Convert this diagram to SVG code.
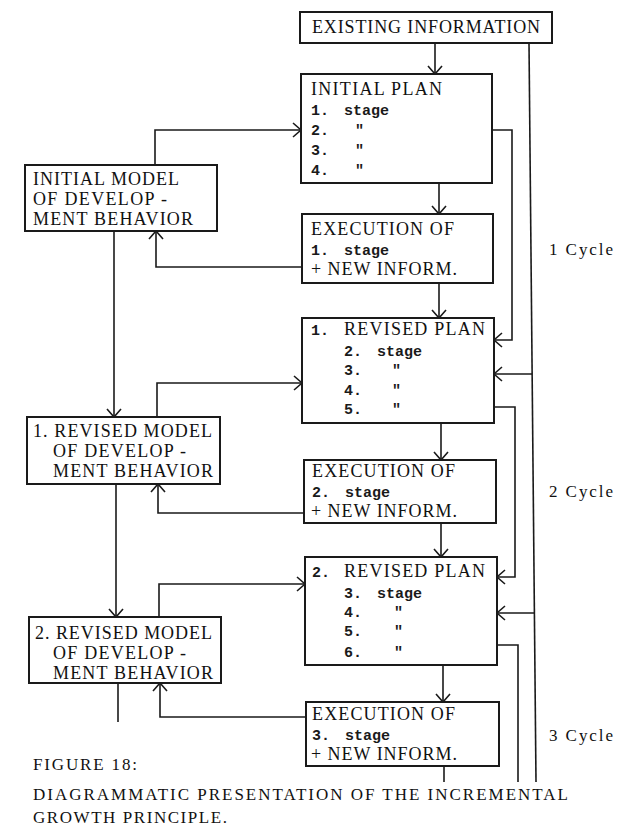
<svg xmlns="http://www.w3.org/2000/svg" width="630" height="828" viewBox="0 0 630 828">
<style>
.bx{fill:#fff;stroke:#1a1a1a;stroke-width:2}
.ln{fill:none;stroke:#1a1a1a;stroke-width:1.6}
.t{font-family:"Liberation Serif","Times New Roman",serif;font-size:18px;fill:#111}
.m{font-family:"Liberation Mono","Courier New",monospace;font-size:15px;font-weight:bold;fill:#1a1a1a}
.c{font-family:"Liberation Serif","Times New Roman",serif;font-size:17px;fill:#111}
</style>
<defs>
<marker id="a" viewBox="-10 -9 12 18" markerWidth="12" markerHeight="18" refX="0" refY="0" orient="auto" markerUnits="userSpaceOnUse">
<path d="M-8,-7 L0,0 L-8,7" fill="none" stroke="#1a1a1a" stroke-width="1.6"/>
</marker>
</defs>
<rect width="630" height="828" fill="#fff"/>
<g id="connectors">
<path class="ln" d="M435,43 V74" marker-end="url(#a)"/>
<path class="ln" d="M439,183 V214" marker-end="url(#a)"/>
<path class="ln" d="M439,283 V318" marker-end="url(#a)"/>
<path class="ln" d="M441,423 V460" marker-end="url(#a)"/>
<path class="ln" d="M441,523 V557" marker-end="url(#a)"/>
<path class="ln" d="M443,665 V702" marker-end="url(#a)"/>
<path class="ln" d="M444,766 V782"/>
<path class="ln" d="M529,43 L536,782"/>
<path class="ln" d="M532,374 H494" marker-end="url(#a)"/>
<path class="ln" d="M534.4,613 H497" marker-end="url(#a)"/>
<path class="ln" d="M492,130 H512 V340 H494" marker-end="url(#a)"/>
<path class="ln" d="M494,407 H515 V577 H497" marker-end="url(#a)"/>
<path class="ln" d="M497,645 H518 V782"/>
<path class="ln" d="M155,165 V130 H301" marker-end="url(#a)"/>
<path class="ln" d="M302,267 H156 V231" marker-end="url(#a)"/>
<path class="ln" d="M114,231 V417" marker-end="url(#a)"/>
<path class="ln" d="M157,417 V383 H302" marker-end="url(#a)"/>
<path class="ln" d="M304,513 H158 V484" marker-end="url(#a)"/>
<path class="ln" d="M116,484 V617" marker-end="url(#a)"/>
<path class="ln" d="M159,617 V584 H305" marker-end="url(#a)"/>
<path class="ln" d="M306,717 H160 V683" marker-end="url(#a)"/>
<path class="ln" d="M118,683 V722"/>
</g>
<g id="existing">
<rect class="bx" x="300" y="12" width="252" height="31"/>
<text class="t" x="312" y="33" textLength="228" lengthAdjust="spacing">EXISTING INFORMATION</text>
</g>
<g id="plan0">
<rect class="bx" x="301" y="74" width="191" height="109"/>
<text class="t" x="311" y="95" textLength="131" lengthAdjust="spacing">INITIAL PLAN</text>
<text class="m" x="311" y="115">1.</text><text class="m" x="344" y="115">stage</text>
<text class="m" x="311" y="135">2.</text><text class="m" x="355" y="135">"</text>
<text class="m" x="311" y="155">3.</text><text class="m" x="355" y="155">"</text>
<text class="m" x="311" y="175">4.</text><text class="m" x="355" y="175">"</text>
</g>
<g id="exec1">
<rect class="bx" x="302" y="214" width="191" height="69"/>
<text class="t" x="311" y="235" textLength="143" lengthAdjust="spacing">EXECUTION OF</text>
<text class="m" x="311" y="255">1.</text><text class="m" x="344" y="255">stage</text>
<text class="t" x="311" y="275" textLength="146" lengthAdjust="spacing">+ NEW INFORM.</text>
</g>
<g id="plan1">
<rect class="bx" x="302" y="318" width="192" height="105"/>
<text class="m" x="311" y="335">1.</text>
<text class="t" x="344" y="335" textLength="141" lengthAdjust="spacing">REVISED PLAN</text>
<text class="m" x="344" y="356">2.</text><text class="m" x="377" y="356">stage</text>
<text class="m" x="344" y="375">3.</text><text class="m" x="392" y="375">"</text>
<text class="m" x="344" y="395">4.</text><text class="m" x="392" y="395">"</text>
<text class="m" x="344" y="414">5.</text><text class="m" x="392" y="414">"</text>
</g>
<g id="exec2">
<rect class="bx" x="304" y="460" width="192" height="63"/>
<text class="t" x="312" y="477" textLength="143" lengthAdjust="spacing">EXECUTION OF</text>
<text class="m" x="312" y="497">2.</text><text class="m" x="345" y="497">stage</text>
<text class="t" x="311" y="517" textLength="146" lengthAdjust="spacing">+ NEW INFORM.</text>
</g>
<g id="plan2">
<rect class="bx" x="305" y="557" width="192" height="108"/>
<text class="m" x="312" y="577">2.</text>
<text class="t" x="344" y="577" textLength="141" lengthAdjust="spacing">REVISED PLAN</text>
<text class="m" x="344" y="598">3.</text><text class="m" x="377" y="598">stage</text>
<text class="m" x="344" y="617">4.</text><text class="m" x="394" y="617">"</text>
<text class="m" x="344" y="636">5.</text><text class="m" x="394" y="636">"</text>
<text class="m" x="344" y="657">6.</text><text class="m" x="394" y="657">"</text>
</g>
<g id="exec3">
<rect class="bx" x="306" y="702" width="193" height="64"/>
<text class="t" x="312" y="720" textLength="143" lengthAdjust="spacing">EXECUTION OF</text>
<text class="m" x="312" y="740">3.</text><text class="m" x="345" y="740">stage</text>
<text class="t" x="311" y="760" textLength="146" lengthAdjust="spacing">+ NEW INFORM.</text>
</g>
<g id="model0">
<rect class="bx" x="25" y="165" width="192" height="66"/>
<text class="t" x="33" y="185" textLength="146" lengthAdjust="spacing">INITIAL MODEL</text>
<text class="t" x="33" y="205" textLength="134" lengthAdjust="spacing">OF DEVELOP -</text>
<text class="t" x="33" y="225" textLength="160" lengthAdjust="spacing">MENT BEHAVIOR</text>
</g>
<g id="model1">
<rect class="bx" x="27" y="417" width="193" height="67"/>
<text class="t" x="33" y="437" textLength="179" lengthAdjust="spacing">1. REVISED MODEL</text>
<text class="t" x="53" y="457" textLength="133" lengthAdjust="spacing">OF DEVELOP -</text>
<text class="t" x="53" y="477" textLength="160" lengthAdjust="spacing">MENT BEHAVIOR</text>
</g>
<g id="model2">
<rect class="bx" x="29" y="617" width="192" height="66"/>
<text class="t" x="35" y="639" textLength="177" lengthAdjust="spacing">2. REVISED MODEL</text>
<text class="t" x="53" y="659" textLength="133" lengthAdjust="spacing">OF DEVELOP -</text>
<text class="t" x="53" y="679" textLength="160" lengthAdjust="spacing">MENT BEHAVIOR</text>
</g>
<g id="cycles">
<text class="c" x="549" y="255" textLength="64" lengthAdjust="spacing">1 Cycle</text>
<text class="c" x="549" y="497" textLength="64" lengthAdjust="spacing">2 Cycle</text>
<text class="c" x="549" y="741" textLength="64" lengthAdjust="spacing">3 Cycle</text>
</g>
<g id="caption">
<text class="c" x="33" y="770" textLength="104" lengthAdjust="spacing">FIGURE 18:</text>
<text class="c" x="33" y="800" textLength="535" lengthAdjust="spacing">DIAGRAMMATIC PRESENTATION OF THE INCREMENTAL</text>
<text class="c" x="33" y="823" textLength="194" lengthAdjust="spacing">GROWTH PRINCIPLE.</text>
</g>
</svg>
